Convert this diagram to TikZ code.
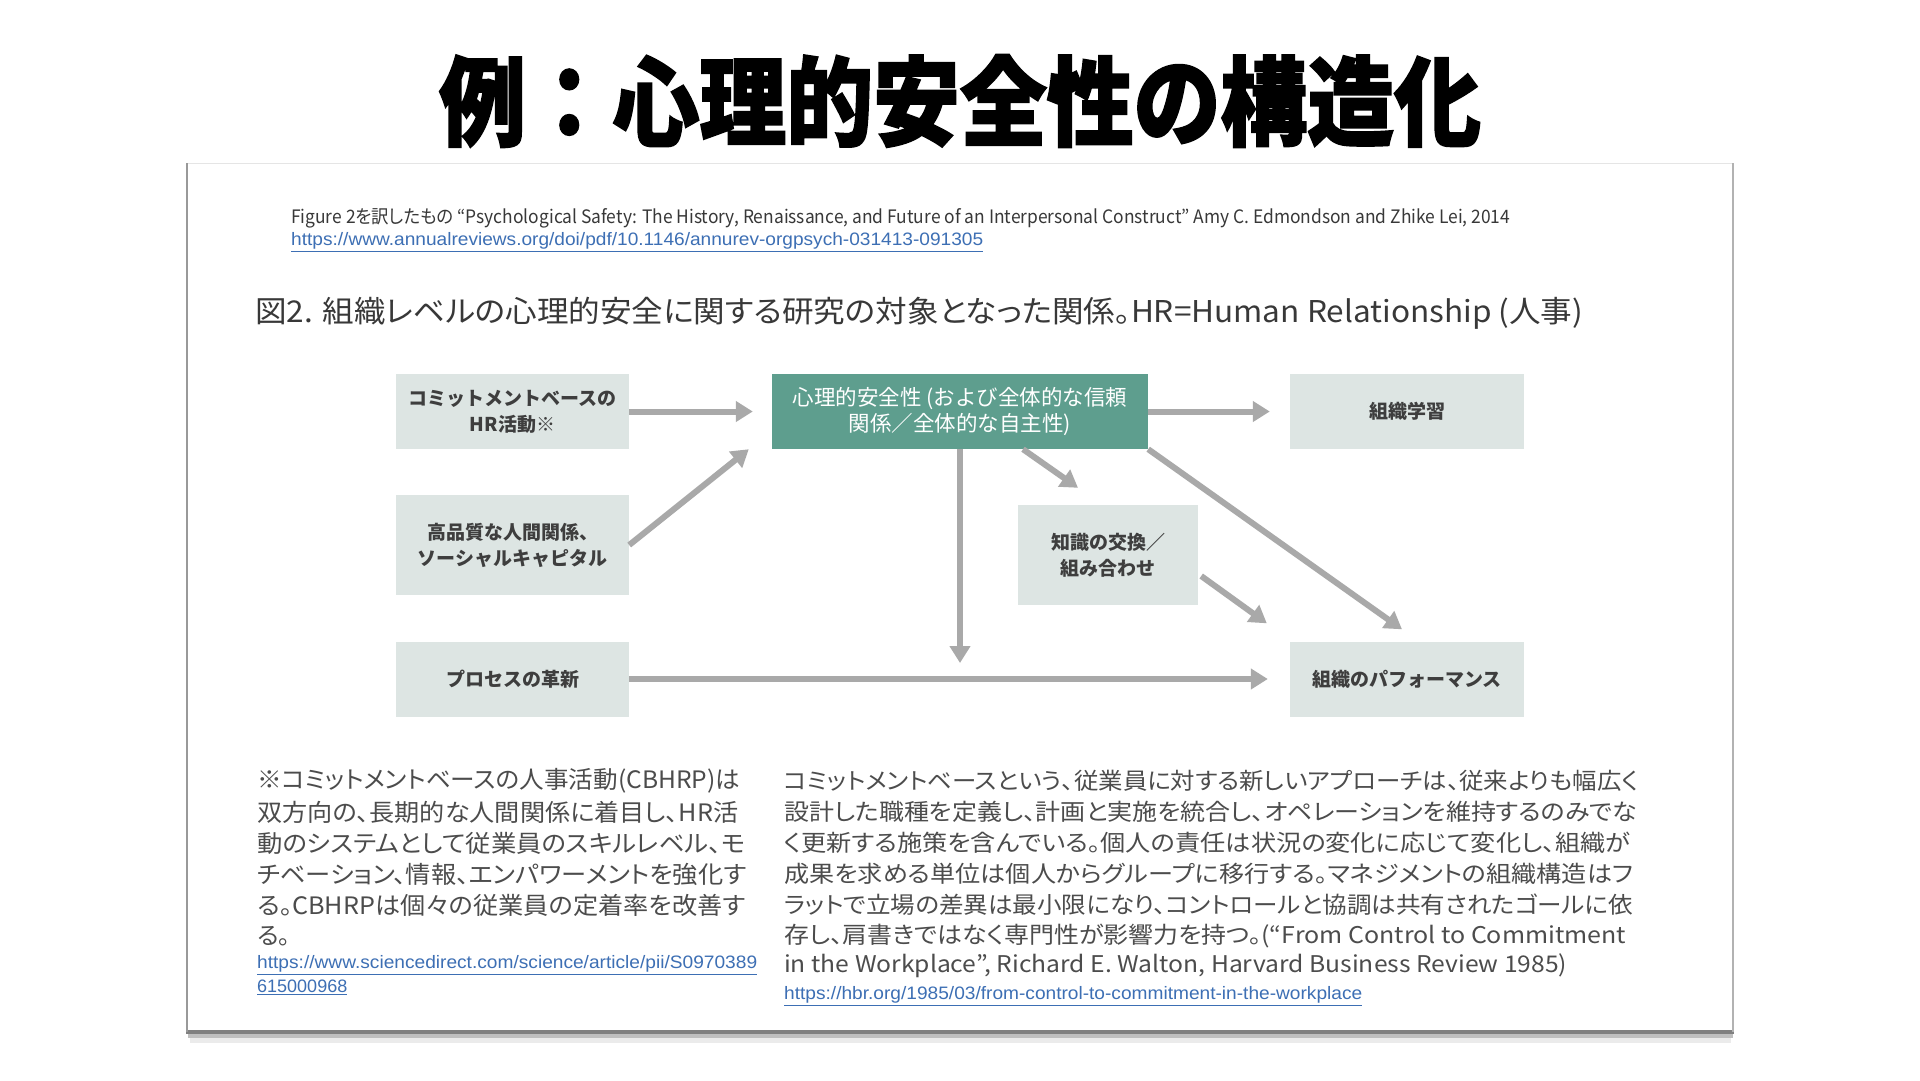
\documentclass[tikz,border=0pt]{standalone}
\usepackage{fontspec}
\usepackage{graphicx}
\usetikzlibrary{arrows.meta,calc}
\setmainfont{Noto Sans CJK JP}[RawFeature=+palt]
\newfontfamily\titlefont{Noto Sans CJK JP}[BoldFeatures={FakeBold=2}]
\newfontfamily\boxfont{Noto Sans CJK JP}
\newfontfamily\linkfont{Liberation Sans}
\definecolor{boxgray}{HTML}{DDE5E3}
\definecolor{psgreen}{HTML}{5E9E8E}
\definecolor{arrowgray}{HTML}{A9A9A9}
\definecolor{txt}{HTML}{383838}
\definecolor{btxt}{HTML}{3E3E3E}
\definecolor{ftxt}{HTML}{4C4C4C}
\definecolor{linkblue}{HTML}{3D6FB4}
\newcommand\fitto[2]{\resizebox{#1pt}{\height}{#2}}
\begin{document}
\begin{tikzpicture}[x=1pt,y=-1pt,
  box/.style={fill=boxgray, minimum width=233pt, minimum height=75pt, inner sep=0pt,
    align=center, font=\boxfont\bfseries\fontsize{19}{26}\selectfont, text=btxt},
  gbox/.style={box, fill=psgreen, text=white, minimum width=376pt,
    font=\boxfont\fontsize{21.5}{26}\selectfont},
  arr/.style={draw=arrowgray, line width=6pt, -{Triangle[length=17pt,width=20pt]}},
  tline/.style={anchor=west, inner sep=0pt, text=ftxt},
  ltxt/.style={tline, font=\fontsize{24}{24}\selectfont},
  rtxt/.style={tline, font=\fontsize{23}{23}\selectfont},
  lnk/.style={anchor=west, inner sep=0pt, text=linkblue, font=\linkfont\fontsize{18}{18}\selectfont}
]
\useasboundingbox (0,0) rectangle (1920,1080);
\fill[white] (0,0) rectangle (1920,1080);

% title
\node[inner sep=0pt, font=\titlefont\bfseries\fontsize{97}{97}\selectfont, text=black] (title) at (960,101)
  {\resizebox{1042pt}{\height}{例：心理的安全性の構造化}};

% frame with shadow
\fill[black!8] (190,1036) rectangle (1731,1043);
\fill[black!25] (188,1033) rectangle (1733,1038);
\fill[black!50] (186,1029) rectangle (1734,1034);
\fill[white] (186,163) rectangle (1733,1030);
\draw[black!10, line width=1pt] (186,163) -- (1733,163);
\draw[black!40, line width=2pt] (187,163) -- (187,1032);
\draw[black!30, line width=2pt] (1733,163) -- (1733,1032);

% header lines
\node[tline, text=txt, font=\fontsize{18.5}{18.5}\selectfont] (fig) at (291,218)
  {\fitto{1219}{Figure 2を訳したもの “Psychological Safety: The History, Renaissance, and Future of an Interpersonal Construct” Amy C. Edmondson and Zhike Lei, 2014}};
\node[lnk] (lnk0) at (291,242)
  {\fitto{692}{\underline{https://www.annualreviews.org/doi/pdf/10.1146/annurev-orgpsych-031413-091305}}};
\node[tline, text=txt, font=\fontsize{30}{30}\selectfont] (cap) at (255,313)
  {\fitto{1328}{図2. 組織レベルの心理的安全に関する研究の対象となった関係。HR=Human Relationship (人事)}};

% boxes
\node[box] (A) at (512.5,411.5) {コミットメントベースの\\HR活動※};
\node[box, minimum height=100pt] (B) at (512.5,545) {高品質な人間関係、\\ソーシャルキャピタル};
\node[box] (C) at (512.5,679) {プロセスの革新};
\node[gbox] (G) at (960,411.5) {心理的安全性 (および全体的な信頼\\関係／全体的な自主性)};
\node[box, minimum width=234pt] (L) at (1407,411.5) {組織学習};
\node[box, minimum width=180pt, minimum height=100pt] (K) at (1108,555) {知識の交換／\\組み合わせ};
\node[box, minimum width=234pt] (P) at (1407,679) {組織のパフォーマンス};

% connectors
\draw[arr, shorten >=19pt] (A.east) -- (G.west);
\draw[arr] (B.east) -- ($(G.south west)+(-23,0)$);
\draw[arr, shorten >=20pt] (G.east) -- (L.west);
\draw[arr] ($(G.south)+(63,0)$) -- ($(K.north)+(-30,-17)$);
\draw[arr, shorten >=16pt] (G.south) -- (G.south |- C.east);
\draw[arr] (G.south east) -- ($(P.north)+(-5,-12)$);
\draw[arr] ($(K.east)+(3,21)$) -- ($(P.north west)+(-23,-18)$);
\draw[arr, shorten >=22pt] (C.east) -- (P.west);

% left note
\node[ltxt] (l1) at (257,781) {\fitto{483}{※コミットメントベースの人事活動(CBHRP)は}};
\node[ltxt] (l2) at (257,812) {\fitto{481}{双方向の、長期的な人間関係に着目し、HR活}};
\node[ltxt] (l3) at (257,843) {\fitto{488}{動のシステムとして従業員のスキルレベル、モ}};
\node[ltxt] (l4) at (257,874) {\fitto{489}{チベーション、情報、エンパワーメントを強化す}};
\node[ltxt] (l5) at (257,905) {\fitto{488}{る。CBHRPは個々の従業員の定着率を改善す}};
\node[ltxt] (l6) at (257,936) {る。};
\node[lnk] (lnk1) at (257,965) {\fitto{500}{\underline{https://www.sciencedirect.com/science/article/pii/S0970389}}};
\node[lnk] (lnk2) at (257,987) {\underline{615000968}};

% right note
\node[rtxt] (r1) at (784,781) {\fitto{854}{コミットメントベースという、従業員に対する新しいアプローチは、従来よりも幅広く}};
\node[rtxt] (r2) at (784,812) {\fitto{853}{設計した職種を定義し、計画と実施を統合し、オペレーションを維持するのみでな}};
\node[rtxt] (r3) at (784,843) {\fitto{846}{く更新する施策を含んでいる。個人の責任は状況の変化に応じて変化し、組織が}};
\node[rtxt] (r4) at (784,874) {\fitto{849}{成果を求める単位は個人からグループに移行する。マネジメントの組織構造はフ}};
\node[rtxt] (r5) at (784,905) {\fitto{849}{ラットで立場の差異は最小限になり、コントロールと協調は共有されたゴールに依}};
\node[rtxt] (r6) at (784,936) {\fitto{842}{存し、肩書きではなく専門性が影響力を持つ。(“From Control to Commitment}};
\node[rtxt] (r7) at (784,966) {\fitto{783}{in the Workplace”, Richard E. Walton, Harvard Business Review 1985)}};
\node[lnk] (lnk3) at (784,996) {\fitto{578}{\underline{https://hbr.org/1985/03/from-control-to-commitment-in-the-workplace}}};
\end{tikzpicture}
\end{document}
